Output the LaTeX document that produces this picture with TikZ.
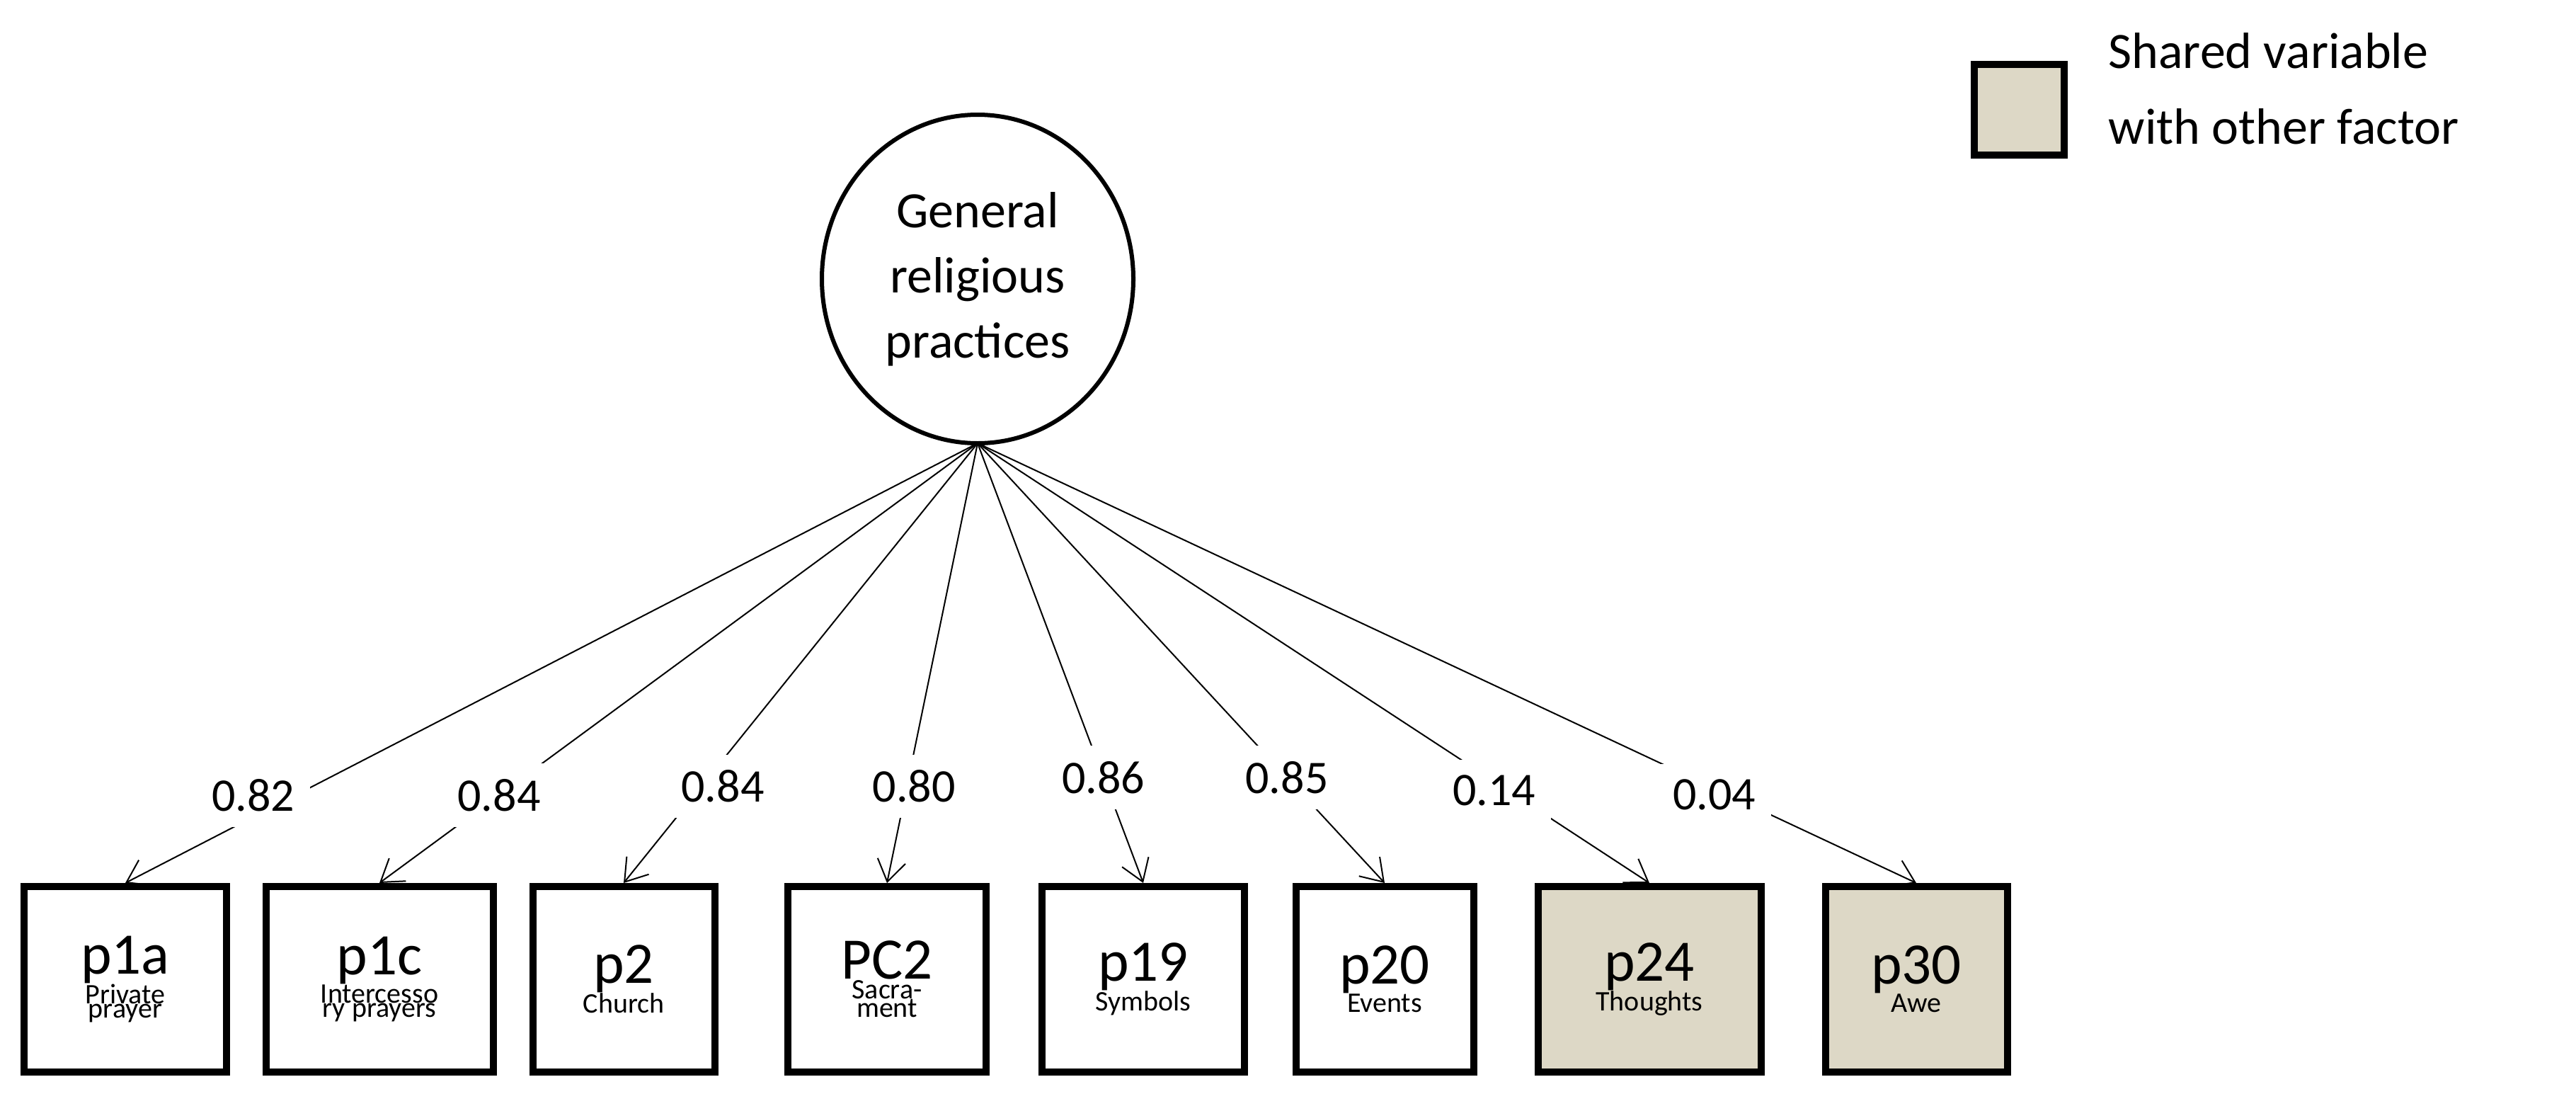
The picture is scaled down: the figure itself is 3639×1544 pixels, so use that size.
\documentclass[tikz,border=0pt]{standalone}
\usepackage{fontspec}
\setmainfont{Carlito}
\usetikzlibrary{arrows.meta,shapes.geometric}
\newcommand{\itemtxt}{\fontsize{83}{88}\selectfont}
\newcommand{\subtxt}{\fontsize{40}{69}\selectfont}
\definecolor{shared}{RGB}{221,216,198}

\begin{document}
\begin{tikzpicture}
[
x=1pt,y=-1pt,
factor/.style={draw,ellipse,line width=6pt,minimum width=440pt,minimum height=464pt,
            align=center,font=\fontsize{72}{92}\selectfont},
itembox/.style={draw,line width=10pt,minimum height=262pt,minimum width=#1,
            align=center,inner sep=0pt},
sharedbox/.style={itembox=#1,fill=shared},
loading/.style={line width=2pt,-{Straight Barb[length=30pt,width=40pt,line width=2pt]}},
weight/.style={fill=white,inner sep=22pt,font=\fontsize{66}{66}\selectfont},
]
\useasboundingbox (0,0) rectangle (3639,1544);

%The factor
\node[factor] (gen) at (1381,394) {General\\religious\\practices};
\coordinate (apex) at (1381,626);

%The items
\node[itembox=286pt] (p1a) at (177,1383) {\itemtxt p1a\\\subtxt Private\\\subtxt prayer};
\node[itembox=321pt] (p1c) at (536,1383) {\itemtxt p1c\\\subtxt Intercesso\\\subtxt ry prayers};
\node[itembox=257pt] (p2) at (881,1383) {\itemtxt p2\\\subtxt Church};
\node[itembox=280pt] (pc2) at (1253,1383) {\itemtxt PC2\\\subtxt Sacra-\\\subtxt ment};
\node[itembox=286pt] (p19) at (1615,1383) {\itemtxt p19\\\subtxt Symbols};
\node[itembox=251pt] (p20) at (1956,1383) {\itemtxt p20\\\subtxt Events};
\node[sharedbox=315pt] (p24) at (2330,1383) {\itemtxt p24\\\subtxt Thoughts};
\node[sharedbox=257pt] (p30) at (2707,1383) {\itemtxt p30\\\subtxt Awe};

%The loadings
\draw[loading] (apex) -- node[weight,pos=0.8,xshift=-60pt] {0.82} (p1a.north);
\draw[loading] (apex) -- node[weight,pos=0.8] {0.84} (p1c.north);
\draw[loading] (apex) -- node[weight,pos=0.78,xshift=30pt] {0.84} (p2.north);
\draw[loading] (apex) -- node[weight,pos=0.78,xshift=10pt] {0.80} (pc2.north);
\draw[loading] (apex) -- node[weight,pos=0.76] {0.86} (p19.north);
\draw[loading] (apex) -- node[weight,pos=0.76] {0.85} (p20.north);
\draw[loading] (apex) -- node[weight,pos=0.79,xshift=-20pt] {0.14} (p24.north);
\draw[loading] (apex) -- node[weight,pos=0.8,xshift=-20pt] {0.04} (p30.north);

%Legend
\node[draw,fill=shared,line width=10pt,minimum size=127pt] (key) at (2852,155) {};
\node[anchor=west,align=left,font=\fontsize{72}{107}\selectfont] (keytxt) at (2975,125)
      {Shared variable\\with other factor};
\end{tikzpicture}
\end{document}
